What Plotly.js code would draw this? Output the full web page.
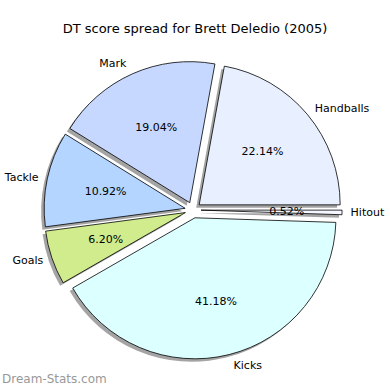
<!DOCTYPE html>
<html>
<head>
<meta charset="utf-8">
<script src="https://cdn.plot.ly/plotly-3.0.1.min.js"></script>
<style>html,body{margin:0;padding:0;background:#fff;}#chart{width:390px;height:390px;}</style>
</head>
<body>
<div id="chart"></div>
<script>
const categories = ["Hitout", "Handballs", "Mark", "Tackle", "Goals", "Kicks"];
const shares = [0.52, 22.14, 19.04, 10.92, 6.20, 41.18];
const sliceColors = ["#f4f7ff", "#e8f0ff", "#c6d8ff", "#b3d5ff", "#d0ec8c", "#dcffff"];
const titleText = "DT score spread for Brett Deledio (2005)";
const watermark = "Dream-Stats.com";

// layout tuning (px radius of the invisible pie that carries each percentage)
const pctRadius = [90, 136, 130, 111, 103, 167];

const PULL = 0.057;
const pulls = categories.map(() => PULL);
const CX = 193, CY = 180;
function box(r) {
  const h = r * (1 + PULL);
  return {x: [(CX - h) / 390, (CX + h) / 390], y: [(CY - h) / 390, (CY + h) / 390]};
}
const R = 141;
const dom = box(R);
const shadowDom = {x: [dom.x[0] - 3 / 390, dom.x[1] - 3 / 390], y: [dom.y[0] - 3 / 390, dom.y[1] - 3 / 390]};
const font = {family: "DejaVu Sans", size: 11, color: "#000"};
const clear = categories.map(() => "rgba(0,0,0,0)");

const common = {
  type: "pie", values: shares, labels: categories, sort: false,
  direction: "counterclockwise", rotation: 90, pull: pulls,
  showlegend: false, hoverinfo: "skip"
};

const traces = [];
traces.push(Object.assign({}, common, {
  domain: shadowDom,
  marker: {colors: categories.map(() => "rgba(90,90,90,0.55)"), line: {width: 0}},
  textinfo: "none"
}));
traces.push(Object.assign({}, common, {
  domain: dom,
  marker: {colors: sliceColors, line: {color: "#000", width: 0.8}},
  textinfo: "none"
}));
categories.forEach((c, i) => {
  traces.push(Object.assign({}, common, {
    domain: box(pctRadius[i]),
    marker: {colors: clear, line: {width: 0}},
    texttemplate: categories.map((_, j) => j === i ? "%{percent:.2%}" : ""),
    textposition: "inside", insidetextorientation: "horizontal", textfont: font
  }));
});
traces.push(Object.assign({}, common, {
  domain: box(146),
  marker: {colors: clear, line: {width: 0}},
  textinfo: "label", textposition: "outside", outsidetextfont: font
}));

const layout = {
  width: 390, height: 390,
  margin: {l: 0, r: 0, t: 0, b: 0},
  paper_bgcolor: "#fff",
  title: {text: titleText, x: 0.5, xanchor: "center", y: 0.928, yanchor: "middle",
          font: {family: "DejaVu Sans", size: 13, color: "#000"}},
  uniformtext: {mode: "show", minsize: 11},
  annotations: [{
    text: watermark, xref: "paper", yref: "paper", x: 0, y: 0.005,
    xanchor: "left", yanchor: "bottom", showarrow: false,
    font: {family: "DejaVu Sans", size: 12, color: "#999999"}
  }]
};

Plotly.newPlot("chart", traces, layout, {staticPlot: true});
</script>
</body>
</html>
